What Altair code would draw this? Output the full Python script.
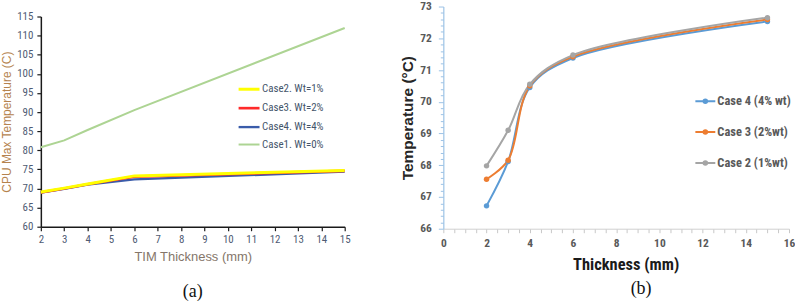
import altair as alt
import pandas as pd

NARROW = "Liberation Sans Narrow, Roboto Condensed, Liberation Sans, sans-serif"
SANS = "Liberation Sans, Arial, sans-serif"
SERIF = "Liberation Serif, Times New Roman, serif"

# ---------------- panel (a) data ----------------
a_thickness = [2, 3, 4, 6, 15]
a_case1 = [80.8, 82.6, 85.3, 90.5, 112.0]
a_case2 = [69.1, 70.1, 71.2, 73.3, 74.7]
a_case3 = [69.0, 70.0, 71.1, 73.1, 74.6]
a_case4 = [68.9, 69.9, 71.0, 72.4, 74.4]
a_series = ["Case2. Wt=1%", "Case3. Wt=2%", "Case4. Wt=4%", "Case1. Wt=0%"]
a_colors = ["#ffff00", "#ff2a2a", "#3a5caa", "#add493"]
a_widths = [3.0, 2.0, 2.0, 1.4]
a_x_ticks = list(range(2, 16))
a_y_ticks = list(range(60, 116, 5))

# ---------------- panel (b) data ----------------
b_thickness = [2, 3, 4, 6, 15]
b_case4 = [66.72, 68.12, 70.45, 71.38, 72.53]
b_case3 = [67.56, 68.16, 70.50, 71.42, 72.59]
b_case2 = [67.98, 69.10, 70.55, 71.47, 72.65]
b_series = ["Case 4 (4% wt)", "Case 3 (2%wt)", "Case 2 (1%wt)"]
b_colors = ["#5b9bd5", "#ed7d31", "#a5a5a5"]
b_x_ticks = [i * 0.5 for i in range(33)]
b_y_ticks = [round(66 + 0.2 * i, 1) for i in range(36)]

# ---------------- tables ----------------
rows_a = []
for name, vals in [(a_series[3], a_case1), (a_series[2], a_case4),
                   (a_series[1], a_case3), (a_series[0], a_case2)]:
    for i, (t, v) in enumerate(zip(a_thickness, vals)):
        rows_a.append({"thickness": t, "temp": v, "series": name, "i": i})
dfa = pd.DataFrame(rows_a)

rows_b = []
for name, vals in [(b_series[0], b_case4), (b_series[1], b_case3), (b_series[2], b_case2)]:
    for i, (t, v) in enumerate(zip(b_thickness, vals)):
        rows_b.append({"thickness": t, "temp": v, "series": name, "i": i})
dfb = pd.DataFrame(rows_b)

# ---------------- chart (a) ----------------
chart_a = alt.Chart(dfa).mark_line().encode(
    x=alt.X("thickness:Q",
            scale=alt.Scale(domain=[2, 15], nice=False, zero=False),
            axis=alt.Axis(values=a_x_ticks, title="TIM Thickness (mm)", grid=False,
                          domainColor="#1a1a1a", domainWidth=1.5, tickColor="#1a1a1a",
                          tickWidth=1.2, tickSize=4, labelFont=NARROW, labelFontSize=11,
                          labelColor="#4f5b73", labelPadding=3, labelFlush=False,
                          titleFont=SANS, titleFontSize=13, titleFontWeight="normal",
                          titleColor="#85766a", titlePadding=6)),
    y=alt.Y("temp:Q",
            scale=alt.Scale(domain=[60, 115], nice=False, zero=False, range=[221, 10]),
            axis=alt.Axis(values=a_y_ticks, title="CPU Max Temperature (C)", grid=False,
                          domainColor="#1a1a1a", domainWidth=1.5, tickColor="#1a1a1a",
                          tickWidth=1.2, tickSize=4, labelFont=NARROW, labelFontSize=11,
                          labelColor="#4f5b73", labelPadding=4, labelFlush=False,
                          titleFont=SANS, titleFontSize=12, titleFontWeight="normal",
                          titleColor="#b5834e", titlePadding=3)),
    color=alt.Color("series:N", scale=alt.Scale(domain=a_series, range=a_colors),
                    legend=alt.Legend(title=None, orient="none", legendX=197, legendY=71,
                                      symbolType="stroke", symbolSize=441,
                                      symbolStrokeWidth=2, labelFont=NARROW,
                                      labelFontSize=11, labelColor="#44546a",
                                      rowPadding=1, labelOffset=1, padding=0)),
    strokeWidth=alt.StrokeWidth("series:N", scale=alt.Scale(domain=a_series, range=a_widths),
                                legend=None),
    order="i:Q",
).properties(
    width=305, height=221,
    title=alt.TitleParams("(a)", orient="bottom", anchor="middle", frame="group",
                          font=SERIF, fontSize=18, fontWeight="normal", color="#111111",
                          offset=20),
)

# ---------------- chart (b) ----------------
cond_y = "abs(datum.value - round(datum.value)) < 0.01"
cond_x = "abs(datum.value/2 - round(datum.value/2)) < 0.01"

x_b = alt.X("thickness:Q",
            scale=alt.Scale(domain=[0, 16], nice=False, zero=False),
            axis=alt.Axis(values=b_x_ticks, title="Thickness (mm)", grid=False,
                          domainColor="#d0d0d0", domainWidth=1, tickColor="#c8c8c8",
                          tickSize=4, labelFont=NARROW, labelFontSize=11.5,
                          labelFontWeight="bold", labelColor="#595959", labelPadding=5,
                          labelOverlap=False, labelFlush=False,
                          labelExpr=f"{cond_x} ? format(datum.value, 'd') : ''",
                          titleFont=NARROW, titleFontSize=16.5, titleFontWeight="bold",
                          titleColor="#1a1a1a", titlePadding=7, titleX=183))
y_b = alt.Y("temp:Q",
            scale=alt.Scale(domain=[66, 73], nice=False, zero=False),
            axis=alt.Axis(values=b_y_ticks, title="Temperature (°C)", grid=False,
                          domainColor="#9dc3e6", domainWidth=1.2, tickColor="#9dc3e6",
                          tickSize={"condition": {"test": cond_y, "value": 5}, "value": 3},
                          labelFont=NARROW, labelFontSize=11.5, labelFontWeight="bold",
                          labelColor="#595959", labelPadding=7, labelOverlap=False,
                          labelFlush=False,
                          labelExpr=f"{cond_y} ? format(datum.value, 'd') : ''",
                          titleFont=SANS, titleFontSize=15.5, titleFontWeight="bold",
                          titleColor="#262626", titlePadding=4))

sym = "M-1,0L1,0M0.18,0A0.18,0.18,0,1,1,-0.18,0A0.18,0.18,0,1,1,0.18,0Z"
chart_b = alt.Chart(dfb).mark_line(
    interpolate="catmull-rom", strokeWidth=2,
    point=alt.OverlayMarkDef(filled=True, size=30, opacity=1),
).encode(
    x=x_b, y=y_b, order="i:Q",
    color=alt.Color("series:N", scale=alt.Scale(domain=b_series, range=b_colors),
                    legend=alt.Legend(title=None, orient="none", legendX=252, legendY=84,
                                      symbolType=sym, symbolSize=400, symbolStrokeWidth=2,
                                      symbolOpacity=1,
                                      labelFont=NARROW, labelFontSize=12.5,
                                      labelFontWeight="bold", labelColor="#595959",
                                      rowPadding=13, labelOffset=1, padding=0)),
).properties(
    width=347, height=223,
    title=alt.TitleParams("(b)", orient="bottom", anchor="middle", frame="group",
                          font=SERIF, fontSize=18, fontWeight="normal", color="#111111",
                          offset=8, dx=25),
)

chart = alt.hconcat(chart_a, chart_b, spacing=50).resolve_scale(
    color="independent", strokeWidth="independent"
).properties(
    padding={"left": 0, "top": 0, "right": 0, "bottom": 0},
    background="white",
).configure_view(stroke=None)

chart.save("out.html", embed_options={"renderer": "svg", "actions": False})
